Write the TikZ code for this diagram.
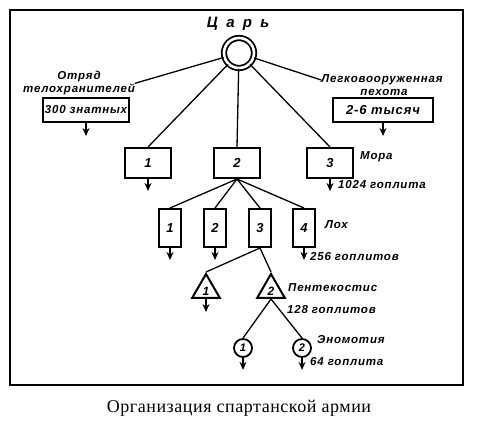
\documentclass[tikz,border=0pt]{standalone}
\usepackage{fontspec}
\setmainfont{Liberation Serif}[LetterSpace=3]
\newfontfamily\lblfont[LetterSpace=7]{Liberation Sans}
\newfontfamily\tsarfont[LetterSpace=55]{Liberation Sans}
\usetikzlibrary{arrows.meta,shapes.geometric}

\begin{document}
\begin{tikzpicture}[x=1pt,y=-1pt,
  lbl/.style={font=\lblfont\bfseries\itshape\fontsize{11.5}{13}\selectfont, inner sep=0pt},
  unit/.style={draw, line width=2pt, inner sep=0pt, font=\lblfont\bfseries\itshape\fontsize{13}{14}\selectfont},
  link/.style={line width=1.3pt},
  dn/.style={line width=1.3pt, -{Stealth[length=8pt,width=7pt]}}]
\useasboundingbox (0,0) rectangle (477,422);
% Frame
\draw[line width=1.2pt] (10,10) rectangle (463,385);
\draw[line width=2pt] (10,385) -- (463,385);
% King
\node[draw, circle, minimum size=30pt, line width=1.8pt, double, double distance=2.6pt] (tsar) at (239,53) {};
\node[font=\tsarfont\bfseries\itshape\fontsize{15}{16}\selectfont] (tsarlbl) at (238,24) {Царь};
% Bodyguard
\node[lbl] (guard1) at (79,77) {Отряд};
\node[lbl] (guard2) at (79,89) {телохранителей};
\draw[link] (tsar) -- (guard2.north east);
\node[unit, minimum width=86pt, minimum height=24pt,
  font=\lblfont\bfseries\itshape\fontsize{11.5}{13}\selectfont] (guard) at (86,110) {300 знатных};
\draw[dn] (guard.south) -- ++(0,13);
% Light infantry
\node[lbl] (light1) at (382,80) {Легковооруженная};
\node[lbl] (light2) at (384,92) {пехота};
\draw[link] (tsar) -- (light1.west);
\node[unit, minimum width=100pt, minimum height=24pt] (light) at (383,110) {2-6 тысяч};
\draw[dn] (light.south) -- ++(0,13);
% Morai
\foreach \i/\x in {1/148,2/237,3/330} {
  \node[unit, minimum width=46pt, minimum height=30pt] (m\i) at (\x,163) {\i};
  \draw[link] (tsar) -- (m\i.north);
}
\draw[dn] (m1.south) -- ++(0,12);
\draw[dn] (m3.south) -- ++(0,12);
\node[lbl, anchor=west] (moralbl) at (360,157) {Мора};
\node[lbl, anchor=west] (moranum) at (338,185) {1024 гоплита};
% Lochoi
\foreach \i/\x in {1/170,2/215,3/260,4/304} {
  \node[unit, minimum width=22pt, minimum height=38pt] (l\i) at (\x,228) {\i};
  \draw[link] (m2.south) -- (l\i.north);
}
\foreach \i in {1,2,4} {
  \draw[dn] (l\i.south) -- ++(0,12);
}
\node[lbl, anchor=west] (lochlbl) at (325,225) {Лох};
\node[lbl, anchor=west] (lochnum) at (310,257) {256 гоплитов};
% Pentekostyes
\foreach \i/\x in {1/206,2/271} {
  \node[unit, regular polygon, regular polygon sides=3, minimum size=32pt] (p\i) at (\x,290) {};
  \node[font=\lblfont\bfseries\itshape\fontsize{12}{13}\selectfont, inner sep=0pt] (p\i num) at (\x,291) {\i};
  \draw[link] (l3.south) -- (p\i.corner 1);
}
\draw[dn] (p1.side 2) -- ++(0,13);
\node[lbl, anchor=west] (pentlbl) at (288,288) {Пентекостис};
\node[lbl, anchor=west] (pentnum) at (287,310) {128 гоплитов};
% Enomotiai
\foreach \i/\x in {1/243,2/302} {
  \node[draw, circle, line width=1.8pt, minimum size=18pt, inner sep=0pt,
    font=\lblfont\bfseries\itshape\fontsize{11}{12}\selectfont] (e\i) at (\x,348) {\i};
  \draw[link] (p2.side 2) -- (e\i.north);
  \draw[dn] (e\i.south) -- ++(0,12);
}
\node[lbl, anchor=west] (enomlbl) at (317,340) {Эномотия};
\node[lbl, anchor=west] (enomnum) at (310,362) {64 гоплита};
% Caption
\node[font=\fontsize{18}{20}\selectfont] (caption) at (239,408) {Организация спартанской армии};
\end{tikzpicture}
\end{document}
